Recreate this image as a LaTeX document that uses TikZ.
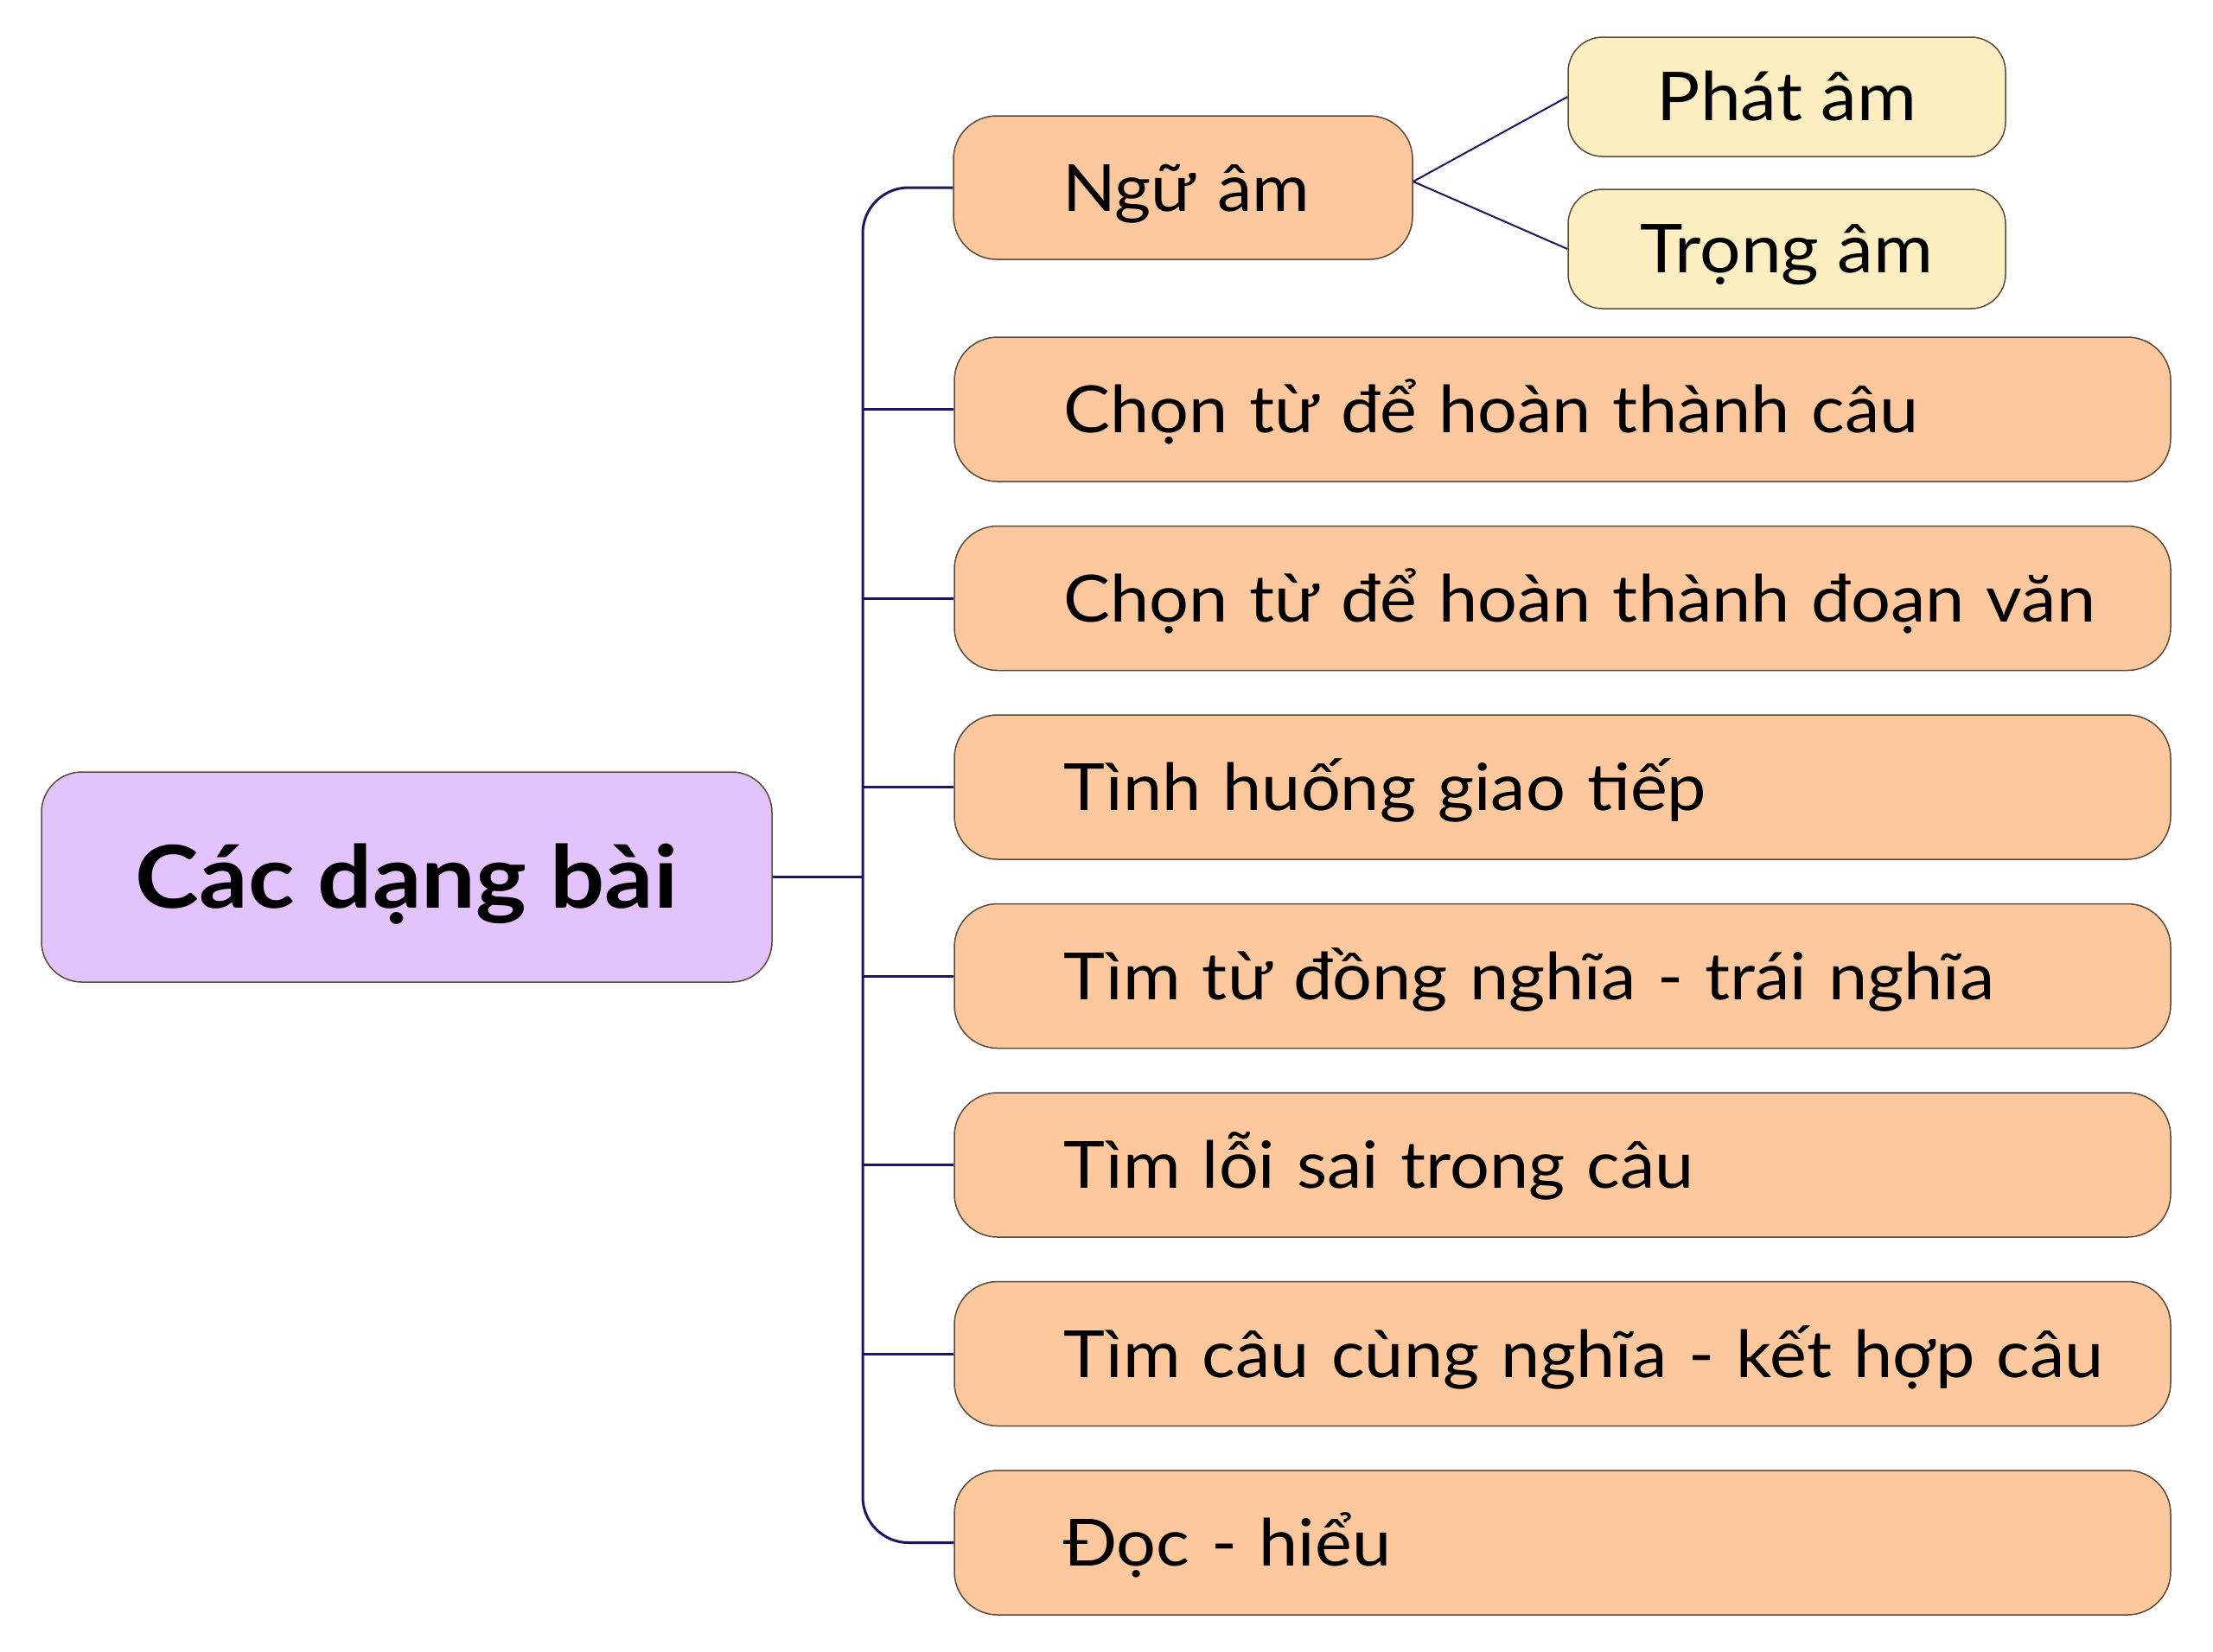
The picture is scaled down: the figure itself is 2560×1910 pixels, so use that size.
\documentclass[tikz,border=0pt]{standalone}
\usepackage{fontspec}
\setmainfont[FakeStretch=1.075]{Lato}
\newfontfamily\titlefont[FakeStretch=1.11]{Lato}
\usetikzlibrary{calc}
\definecolor{purplefill}{HTML}{E3C3FB}
\definecolor{orangefill}{HTML}{FDC89E}
\definecolor{yellowfill}{HTML}{FEEFC2}
\definecolor{boxline}{HTML}{5A4A3A}
\definecolor{navy}{HTML}{1C1563}
\begin{document}
\begin{tikzpicture}[x=0.3pt,y=-0.3pt,
  box/.style={draw=boxline, line width=0.45pt, inner sep=0pt},
  itemtext/.style={font=\fontsize{22.6}{27}\selectfont, text height=16.2pt, text depth=0pt},
  leftbox/.style={box, itemtext, fill=orangefill, rounded corners=15pt,
    text width=#1, align=left, minimum height=50.1pt,
    execute at begin node={\hspace*{37.8pt}}},
  subbox/.style={box, itemtext, fill=yellowfill, rounded corners=12pt,
    minimum width=151.8pt, minimum height=41.4pt,
    font=\fontsize{23.4}{28}\selectfont},
  rootbox/.style={box, fill=purplefill, rounded corners=14pt,
    minimum width=253.5pt, minimum height=72.9pt,
    font=\titlefont\fontsize{30.1}{36}\selectfont\bfseries, text height=21.6pt, text depth=0pt},
  conn/.style={draw=navy, line width=0.9pt},
  subconn/.style={draw=navy, line width=0.6pt}]
\fill[white] (0,0) rectangle (2560,1910);
\useasboundingbox (0,0) rectangle (2560,1910);

\coordinate (sp) at (998,0);

\node[rootbox] (root) at (470.5,1014.5) {Các dạng bài};
\node[leftbox=159.3pt, minimum height=49.8pt] (ngu) at (1368.5,217) {Ngữ âm};
\node[subbox] (phat) at (2067,112) {Phát âm};
\node[subbox] (trong) at (2067,288) {Trọng âm};

\node[leftbox=422.1pt] (b2) at (1807.5,473.5) {Chọn từ để hoàn thành câu};
\node[leftbox=422.1pt] (b3) at (1807.5,692) {Chọn từ để hoàn thành đoạn văn};
\node[leftbox=422.1pt] (b4) at (1807.5,910.5) {Tình huống giao tiếp};
\node[leftbox=422.1pt] (b5) at (1807.5,1129) {Tìm từ đồng nghĩa - trái nghĩa};
\node[leftbox=422.1pt] (b6) at (1807.5,1347.5) {Tìm lỗi sai trong câu};
\node[leftbox=422.1pt] (b7) at (1807.5,1566) {Tìm câu cùng nghĩa - kết hợp câu};
\node[leftbox=422.1pt] (b8) at (1807.5,1784.5) {Đọc - hiểu};

\draw[conn, rounded corners=15.9pt] (ngu.west) -- (ngu.west -| sp) -- (b8.west -| sp) -- (b8.west);
\foreach \b in {b2,b3,b4,b5,b6,b7}
  \draw[conn] (\b.west -| sp) -- (\b.west);
\draw[conn] (root.east) -- (root.east -| sp);

\coordinate (nguout) at ($(ngu.east)+(0,-7)$);
\draw[subconn] (nguout) -- (phat.west);
\draw[subconn] (nguout) -- (trong.west);
\end{tikzpicture}
\end{document}
